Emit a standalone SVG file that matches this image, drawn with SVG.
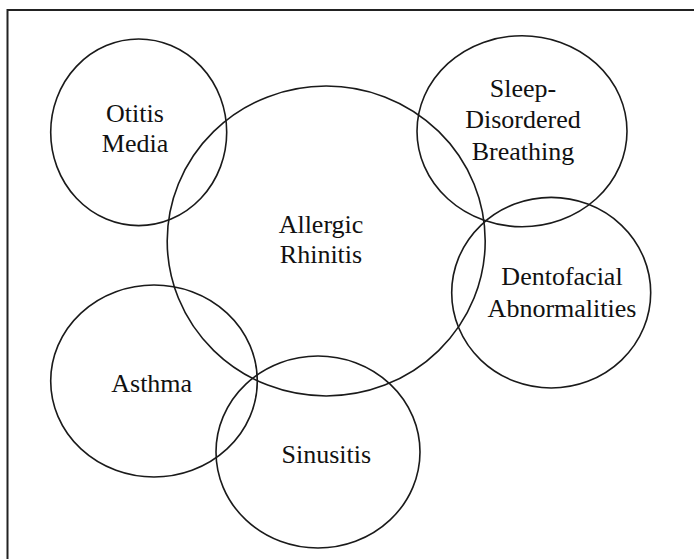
<svg xmlns="http://www.w3.org/2000/svg" width="694" height="559" viewBox="0 0 694 559">
<style>
.c{fill:none;stroke:#1a1a1a;stroke-width:1.6}
.t{font-family:"Liberation Serif","Times New Roman",serif;font-size:26px;fill:#111;text-anchor:middle}
</style>
<rect x="0" y="0" width="694" height="559" fill="#fff"/>
<path d="M7.5,559 V10 H694" fill="none" stroke="#222" stroke-width="2"/>
<g id="connectors"></g>
<g id="otitis"><ellipse class="c" cx="138.7" cy="132.3" rx="88" ry="93.3"/><text class="t" x="135" y="121.7">Otitis</text><text class="t" x="135" y="151.7">Media</text></g>
<g id="sleep"><ellipse class="c" cx="522" cy="131.2" rx="105" ry="95.5"/><text class="t" x="523" y="96.7">Sleep-</text><text class="t" x="523" y="128.3">Disordered</text><text class="t" x="523" y="160">Breathing</text></g>
<g id="allergic"><ellipse class="c" cx="326.2" cy="241" rx="159" ry="155"/><text class="t" x="321" y="232.7">Allergic</text><text class="t" x="321" y="262.7">Rhinitis</text></g>
<g id="dentofacial"><ellipse class="c" cx="551.2" cy="292.7" rx="99.5" ry="95.3"/><text class="t" x="562" y="285">Dentofacial</text><text class="t" x="562" y="316.7">Abnormalities</text></g>
<g id="asthma"><ellipse class="c" cx="154" cy="381" rx="103.3" ry="96"/><text class="t" x="151.7" y="391.7">Asthma</text></g>
<g id="sinusitis"><ellipse class="c" cx="318" cy="452" rx="102" ry="96"/><text class="t" x="326.3" y="462.7">Sinusitis</text></g>
</svg>
